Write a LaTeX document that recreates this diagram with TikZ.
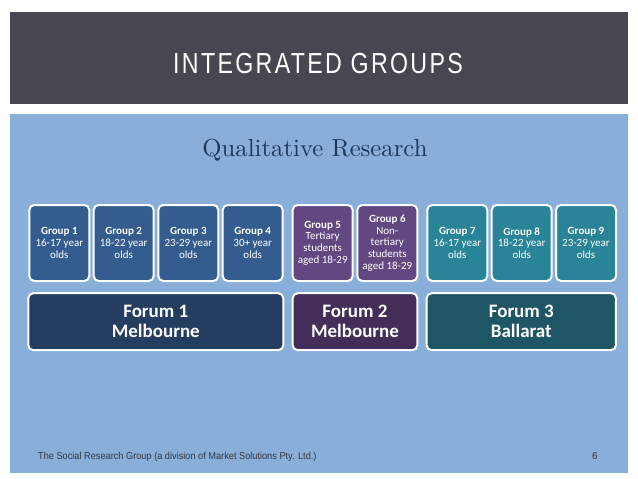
\documentclass[tikz,border=0pt]{standalone}
\usepackage{fontspec}
\setmainfont{Carlito}
\newfontfamily\titlefont[LetterSpace=10]{Liberation Sans}
\newfontfamily\footfont{Liberation Sans}
\newfontfamily\qualfont{Latin Modern Roman}
\definecolor{headbg}{RGB}{71,71,82}
\definecolor{panel}{RGB}{137,174,217}
\definecolor{gblue}{RGB}{52,92,142}
\definecolor{fblue}{RGB}{36,61,97}
\definecolor{gpurple}{RGB}{97,72,128}
\definecolor{fpurple}{RGB}{66,46,88}
\definecolor{gteal}{RGB}{42,132,152}
\definecolor{fteal}{RGB}{31,86,102}
\definecolor{qualcol}{RGB}{30,56,92}
\definecolor{footcol}{RGB}{55,55,65}
\tikzset{
  box/.style={draw=white, line width=2pt, rounded corners=5pt, text=white, align=center, inner sep=0pt},
  grp/.style={box, minimum width=60pt, minimum height=76pt, font=\fontsize{11}{11.7}\selectfont},
  forum/.style={box, minimum height=57pt, font=\fontsize{19}{20}\selectfont\bfseries},
}
\begin{document}
\begin{tikzpicture}[x=1pt,y=-1pt]
\useasboundingbox (0,0) rectangle (638,479);
\fill[white] (0,0) rectangle (638,479);
\fill[headbg] (10,12) rectangle (628,104);
\fill[panel] (10,114) rectangle (628,473);
\node[text=white] (title) at (318,64) {\scalebox{0.8}[1]{\titlefont\fontsize{29}{30}\selectfont INTEGRATED GROUPS}};
\node[text=qualcol] (qual) at (315,150) {\resizebox{225pt}{!}{\qualfont Qualitative Research}};
% groups
\node[grp, fill=gblue] (g1) at (59.3,243) {\textbf{Group 1}\\16-17 year\\olds};
\node[grp, fill=gblue] (g2) at (123.7,243) {\textbf{Group 2}\\18-22 year\\olds};
\node[grp, fill=gblue] (g3) at (188.3,243) {\textbf{Group 3}\\23-29 year\\olds};
\node[grp, fill=gblue] (g4) at (252.7,243) {\textbf{Group 4}\\30+ year\\olds};
\node[grp, fill=gpurple] (g5) at (322.7,243) {\textbf{Group 5}\\Tertiary\\students\\aged 18-29};
\node[grp, fill=gpurple] (g6) at (387.3,243) {\textbf{Group 6}\\Non-\\tertiary\\students\\aged 18-29};
\node[grp, fill=gteal] (g7) at (457.3,243) {\textbf{Group 7}\\16-17 year\\olds};
\node[grp, fill=gteal] (g8) at (521.7,243) {\textbf{Group 8}\\18-22 year\\olds};
\node[grp, fill=gteal] (g9) at (586,243) {\textbf{Group 9}\\23-29 year\\olds};
% forums
\node[forum, fill=fblue, minimum width=255pt] (f1) at (155.8,321.7) {Forum 1\\Melbourne};
\node[forum, fill=fpurple, minimum width=124.6pt] (f2) at (355,321.7) {Forum 2\\Melbourne};
\node[forum, fill=fteal, minimum width=189.3pt] (f3) at (521.3,321.7) {Forum 3\\Ballarat};
% footer
\node[anchor=west, text=footcol, inner sep=0pt] (foot) at (38,457) {\scalebox{0.92}[1]{\footfont\fontsize{10}{11}\selectfont The Social Research Group (a division of Market Solutions Pty. Ltd.)}};
\node[text=footcol, inner sep=0pt] (pg) at (595,456) {\footfont\fontsize{10}{11}\selectfont 6};
\end{tikzpicture}
\end{document}
